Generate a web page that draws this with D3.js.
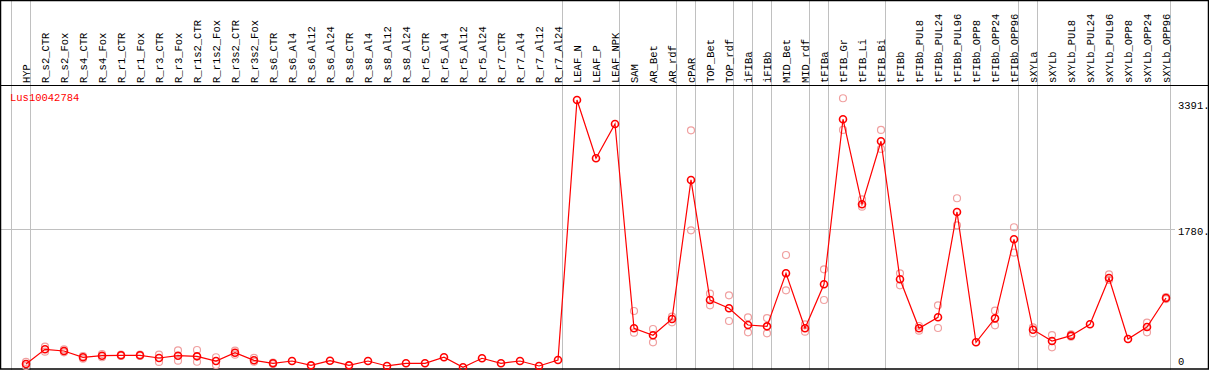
<!DOCTYPE html>
<html>
<head>
<meta charset="utf-8">
<script src="https://cdn.jsdelivr.net/npm/d3@7"></script>
<style>
  body { margin: 0; background: #fff; }
  svg { display: block; }
  text { font-family: "Liberation Mono", "DejaVu Sans Mono", monospace; font-size: 10.5px; }
</style>
</head>
<body>
<svg width="1209" height="370"></svg>
<script>
// gene shown
var geneName = "Lus10042784";

// sample names (x axis, header)
var categories = ["HYP", "R_s2_CTR", "R_s2_Fox", "R_s4_CTR", "R_s4_Fox", "R_r1_CTR", "R_r1_Fox",
    "R_r3_CTR", "R_r3_Fox", "R_r1s2_CTR", "R_r1s2_Fox", "R_r3s2_CTR", "R_r3s2_Fox", "R_s6_CTR",
    "R_s6_Al4", "R_s6_Al12", "R_s6_Al24", "R_s8_CTR", "R_s8_Al4", "R_s8_Al12", "R_s8_Al24",
    "R_r5_CTR", "R_r5_Al4", "R_r5_Al12", "R_r5_Al24", "R_r7_CTR", "R_r7_Al4", "R_r7_Al12", "R_r7_Al24",
    "LEAF_N", "LEAF_P", "LEAF_NPK", "SAM", "AR_Bet", "AR_rdf", "cPAR", "TOP_Bet", "TOP_rdf",
    "iFIBa", "iFIBb", "MID_Bet", "MID_rdf", "tFIBa", "tFIB_Gr", "tFIB_Li", "tFIB_Bi",
    "tFIBb", "tFIBb_PUL8", "tFIBb_PUL24", "tFIBb_PUL96", "tFIBb_OPP8", "tFIBb_OPP24", "tFIBb_OPP96",
    "sXYLa", "sXYLb", "sXYLb_PUL8", "sXYLb_PUL24", "sXYLb_PUL96", "sXYLb_OPP8", "sXYLb_OPP24", "sXYLb_OPP96"];

// first sample of each group (separator lines)
var groupStarts = ["HYP", "R_s2_CTR", "LEAF_N", "SAM", "cPAR", "TOP_Bet", "iFIBa", "iFIBb",
    "MID_Bet", "tFIBa", "tFIB_Gr", "tFIBb", "sXYLa", "sXYLb"];

// mean expression
var means = [51, 239, 217, 137, 157, 162, 162, 128, 157, 149, 89, 195, 98, 60,
    89, 34, 93, 34, 89, 26, 60, 60, 137, 9, 124, 60, 89, 26, 102,
    3422, 2678, 3116, 507, 418, 626, 2401, 868, 762,
    549, 532, 1209, 507, 1069, 3176, 2090, 2895,
    1133, 507, 647, 1992, 328, 634, 1643,
    489, 345, 413, 558, 1149, 370, 524, 894];

// replicates
var repHigh = [77, 272, 239, 153, 179, 170, 170, 170, 226, 230, 137, 221, 128, 70,
    null, null, null, null, null, null, null, null, null, null, null, null, null, null, null,
    null, null, null, 728, 498, 655, 3035, 949, 928,
    647, 638, 1443, 558, 1260, 3444, 2154, 3039,
    1209, 536, 800, 2167, null, 732, 1797,
    519, 421, 430, null, 1196, null, 579, 905];
var repLow = [26, 208, 200, 119, 137, 153, 153, 77, 93, 80, 38, 170, 80, 50,
    null, null, null, null, null, null, null, null, null, null, null, null, null, null, null,
    null, null, null, 451, 328, 583, 1758, 800, 600,
    456, 443, 992, 464, 868, 3039, 2060, 2797,
    1056, 477, 511, 1822, null, 545, 1473,
    443, 264, 400, null, 1124, null, 456, 880];

var yTicks = [3391, 1780, 0];

var svg = d3.select("svg"),
    width = +svg.attr("width"),
    height = +svg.attr("height");

var headerY = 85;

var x = d3.scalePoint()
    .domain(categories)
    .range([26, 1166]);

var step = x.step();

var y = d3.scaleLinear()
    .domain([0, 3391])
    .range([368, 102.4]);

function sepX(d) {
    if (d == "__end") return x(categories[categories.length - 1]) + step - 14.5;
    return x(d) - 14.5;
}

// group separators
svg.append("g")
    .selectAll("line")
    .data(groupStarts.concat(["__end"]))
    .enter().append("line")
    .attr("x1", sepX)
    .attr("x2", sepX)
    .attr("y1", 0)
    .attr("y2", height)
    .attr("stroke", "#c0c0c0")
    .attr("stroke-width", 1);

// horizontal grid at the middle tick
svg.append("line")
    .attr("x1", 1)
    .attr("x2", 1175)
    .attr("y1", Math.round(y(1780)) + 0.5)
    .attr("y2", Math.round(y(1780)) + 0.5)
    .attr("stroke", "#c0c0c0");

// header labels
svg.append("g")
    .selectAll("text")
    .data(categories)
    .enter().append("text")
    .attr("transform", function (d) { return "translate(" + (x(d) + 3.5) + "," + (headerY - 2) + ") rotate(-90)"; })
    .attr("text-anchor", "start")
    .attr("fill", "#000")
    .text(function (d) { return d; });

// frame
svg.append("line").attr("x1", 0).attr("x2", width).attr("y1", headerY + 0.5).attr("y2", headerY + 0.5).attr("stroke", "#000");
svg.append("rect")
    .attr("x", 0.5).attr("y", 0.5)
    .attr("width", width - 1).attr("height", height - 1.5)
    .attr("fill", "none")
    .attr("stroke", "#000")
    .attr("stroke-width", 1.5);

// y labels on the right
svg.append("g")
    .selectAll("text")
    .data(yTicks)
    .enter().append("text")
    .attr("x", 1178)
    .attr("y", function (d) { return Math.min(y(d) + 4, 362); })
    .attr("dominant-baseline", "middle")
    .attr("fill", "#000")
    .text(function (d) { return d == 0 ? "0" : d + "."; });

// gene name
svg.append("text")
    .attr("x", 10)
    .attr("y", 101)
    .attr("fill", "#ff0000")
    .text(geneName);

// replicate circles
var reps = [];
categories.forEach(function (c, i) {
    if (repHigh[i] != null) reps.push({ c: c, v: repHigh[i] });
    if (repLow[i] != null) reps.push({ c: c, v: repLow[i] });
});

svg.append("g")
    .selectAll("circle")
    .data(reps)
    .enter().append("circle")
    .attr("cx", function (d) { return x(d.c); })
    .attr("cy", function (d) { return y(d.v); })
    .attr("r", 3.5)
    .attr("fill", "none")
    .attr("stroke", "#f0a0a0")
    .attr("stroke-width", 1.2);

// mean line
var line = d3.line()
    .x(function (d, i) { return x(categories[i]); })
    .y(function (d) { return y(d); });

svg.append("path")
    .datum(means)
    .attr("d", line)
    .attr("fill", "none")
    .attr("stroke", "#ff0000")
    .attr("stroke-width", 1.2);

svg.append("g")
    .selectAll("circle")
    .data(means)
    .enter().append("circle")
    .attr("cx", function (d, i) { return x(categories[i]); })
    .attr("cy", function (d) { return y(d); })
    .attr("r", 3.5)
    .attr("fill", "none")
    .attr("stroke", "#ff0000")
    .attr("stroke-width", 1.6);
</script>
</body>
</html>
